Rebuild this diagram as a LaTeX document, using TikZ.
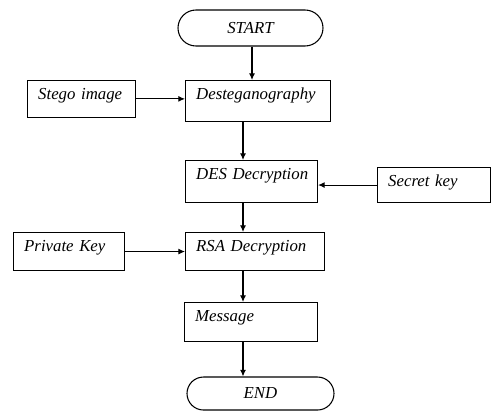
\documentclass[tikz,border=0pt]{standalone}
\usepackage{fontspec}
\setmainfont{Liberation Serif}
\usetikzlibrary{shapes.misc,arrows.meta,positioning,calc}

\tikzset{
    box/.style={rectangle,draw,anchor=north west,inner xsep=0pt,inner ysep=0pt,
        text height=14pt,align=left,execute at begin node={\hspace*{8pt}},
        font=\itshape\fontsize{12.6}{14}\selectfont},
    term/.style={rounded rectangle,draw,inner sep=0pt,
        font=\itshape\fontsize{12.6}{14}\selectfont},
    flow/.style={->,>={Latex[length=5pt,width=4.5pt]}}
}

\begin{document}
\begin{tikzpicture}[x=0.75pt,y=-0.75pt,line width=0.8pt]
    \useasboundingbox (0,0) rectangle (491,412);

    \node[term,minimum width=108.75pt,minimum height=27pt] (start) at (250.5,28) {START};

    \node[box,text width=81pt,text depth=13.5pt] (stego) at (27,80) {Stego image};
    \node[box,text width=108.75pt,text depth=16.5pt] (deste) at (185,80) {Desteganography};

    \node[box,text width=99pt,text depth=17.5pt] (des) at (185,160) {DES Decryption};
    \node[box,text width=84.75pt,text depth=12.25pt] (secret) at (377,167) {Secret key};

    \node[box,text width=83.25pt,text depth=14.5pt] (private) at (13,232) {Private Key};
    \node[box,text width=104.25pt,text depth=14.5pt] (rsa) at (185,232) {RSA Decryption};

    \node[box,text width=99.75pt,text depth=15.25pt] (msg) at (184,302) {Message};

    \node[term,minimum width=110.25pt,minimum height=24.75pt] (end) at (260.5,393.5) {END};

    % main line of the flow
    \coordinate (spine) at (243,0);
    \draw[flow] (start.south -| 252,0) -- (deste.north -| 252,0);
    \draw[flow] (deste.south -| spine) -- (des.north -| spine);
    \draw[flow] (des.south -| spine) -- (rsa.north -| spine);
    \draw[flow] (rsa.south -| spine) -- (msg.north -| spine);
    \draw[flow] (msg.south -| spine) -- (end.north -| spine);

    % inputs
    \draw[flow] (stego.east) -- (stego.east -| deste.west);
    \draw[flow] (secret.west) -- (secret.west -| des.east);
    \draw[flow] (private.east) -- (rsa.west);
\end{tikzpicture}
\end{document}
